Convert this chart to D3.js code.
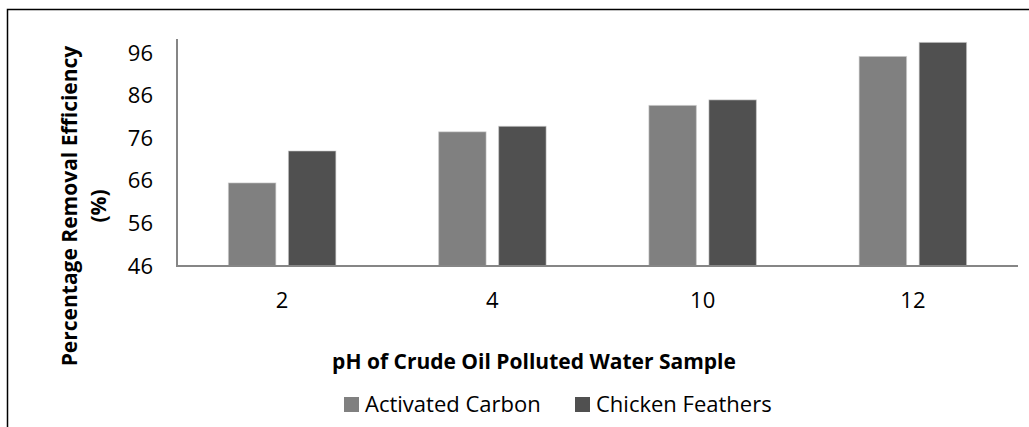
<!DOCTYPE html>
<html>
<head>
<meta charset="utf-8">
<script src="https://cdn.jsdelivr.net/npm/d3@7"></script>
<style>
  body { margin: 0; background: #fff; }
  svg { display: block; font-family: "Open Sans", sans-serif; }
</style>
</head>
<body>
<div id="chart"></div>
<script>
// chart data
var categories = ["2", "4", "10", "12"];
var seriesNames = ["Activated Carbon", "Chicken Feathers"];
var activatedCarbon = [65.5, 77.5, 83.7, 95.2];
var chickenFeathers = [73.0, 78.8, 85.0, 98.5];
var yTicks = [46, 56, 66, 76, 86, 96];
var colors = ["#808080", "#505050"];

var width = 1029, height = 427;
var plot = { left: 177, right: 1018, top: 39, bottom: 266 };

var svg = d3.select("#chart").append("svg")
    .attr("width", width)
    .attr("height", height);

// outer chart frame (runs off the picture on the right and bottom)
svg.append("rect")
    .attr("x", 7.5).attr("y", 9.5)
    .attr("width", 1100).attr("height", 600)
    .attr("fill", "none")
    .attr("stroke", "#000")
    .attr("stroke-width", 1.5);

var x = d3.scaleBand()
    .domain(categories)
    .range([plot.left, plot.right])
    .paddingInner(0.489)
    .paddingOuter(0.2445);

var xInner = d3.scaleBand()
    .domain(seriesNames)
    .range([0, x.bandwidth()])
    .paddingInner(0.21);

var y = d3.scaleLinear()
    .domain([46, 99.3])
    .range([plot.bottom, plot.top]);

var rows = categories.map(function (c, i) {
    return { cat: c, values: [activatedCarbon[i], chickenFeathers[i]] };
});

var groups = svg.selectAll(".grp")
    .data(rows)
    .enter().append("g")
    .attr("class", "grp")
    .attr("transform", function (d) { return "translate(" + x(d.cat) + ",0)"; });

groups.selectAll("rect")
    .data(function (d) {
        return d.values.map(function (v, i) { return { name: seriesNames[i], value: v, i: i }; });
    })
    .enter().append("rect")
    .attr("x", function (d) { return xInner(d.name); })
    .attr("y", function (d) { return y(d.value); })
    .attr("width", xInner.bandwidth())
    .attr("height", function (d) { return plot.bottom - y(d.value); })
    .attr("fill", function (d) { return colors[d.i]; })
    .attr("stroke", "#c8c8c8")
    .attr("stroke-opacity", 0.6)
    .attr("stroke-width", 1);

// axes
var yAxis = svg.append("g")
    .attr("transform", "translate(" + plot.left + ",0)")
    .call(d3.axisLeft(y).tickValues(yTicks).tickSize(0).tickPadding(24));
yAxis.select(".domain").remove();
yAxis.selectAll("text")
    .attr("font-size", 22)
    .attr("font-family", "Open Sans, sans-serif")
    .attr("fill", "#000");

var xAxis = svg.append("g")
    .attr("transform", "translate(0," + plot.bottom + ")")
    .call(d3.axisBottom(x).tickSize(0).tickPadding(26));
xAxis.select(".domain").remove();
xAxis.selectAll("text")
    .attr("font-size", 22)
    .attr("font-family", "Open Sans, sans-serif")
    .attr("fill", "#000");

svg.append("line")
    .attr("x1", plot.left).attr("x2", plot.left)
    .attr("y1", plot.top).attr("y2", plot.bottom + 1)
    .attr("stroke", "#868686").attr("stroke-width", 2);
svg.append("line")
    .attr("x1", plot.left - 1).attr("x2", plot.right)
    .attr("y1", plot.bottom).attr("y2", plot.bottom)
    .attr("stroke", "#868686").attr("stroke-width", 2);

// axis titles
svg.append("text")
    .attr("x", 534).attr("y", 369)
    .attr("text-anchor", "middle")
    .attr("font-size", 21)
    .attr("font-weight", "bold")
    .text("pH of Crude Oil Polluted Water Sample");

var yTitle = ["Percentage Removal Efficiency", "(%)"];
svg.selectAll(".ytitle")
    .data(yTitle)
    .enter().append("text")
    .attr("class", "ytitle")
    .attr("transform", function (d, i) {
        return "translate(" + (77 + i * 29) + ",206) rotate(-90)";
    })
    .attr("text-anchor", "middle")
    .attr("font-size", 21)
    .attr("font-weight", "bold")
    .text(function (d) { return d; });

// legend
var legendX = [344, 575];
var legend = svg.selectAll(".legend")
    .data(seriesNames)
    .enter().append("g")
    .attr("class", "legend")
    .attr("transform", function (d, i) { return "translate(" + legendX[i] + ",397)"; });
legend.append("rect")
    .attr("width", 15).attr("height", 15)
    .attr("fill", function (d, i) { return colors[i]; });
legend.append("text")
    .attr("x", 21).attr("y", 15)
    .attr("font-size", 22)
    .text(function (d) { return d; });
</script>
</body>
</html>
